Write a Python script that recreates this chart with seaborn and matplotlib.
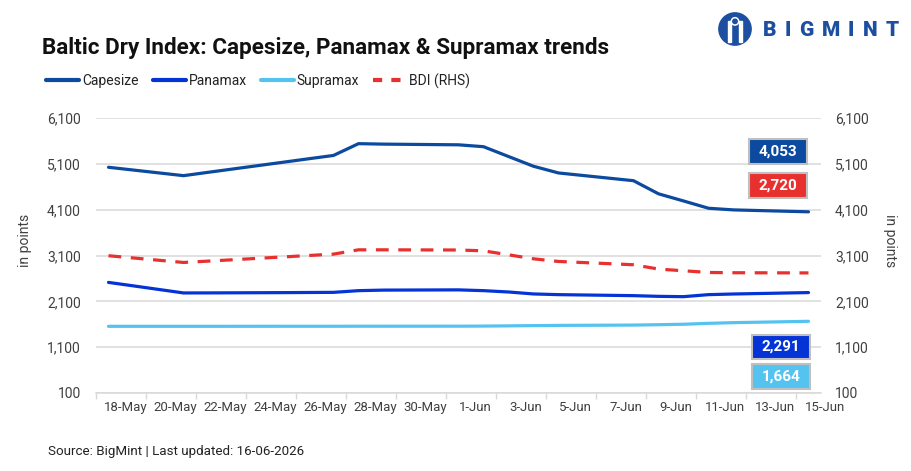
import matplotlib
matplotlib.use("Agg")
import matplotlib.pyplot as plt
import matplotlib.dates as mdates
import matplotlib.transforms as mtrans
from matplotlib.ticker import FixedLocator, FixedFormatter, StrMethodFormatter
from matplotlib.patches import Rectangle, Circle
from matplotlib.lines import Line2D
import seaborn as sns
import pandas as pd

# ---------------- data ----------------
dates = ["2026-05-18", "2026-05-19", "2026-05-20", "2026-05-21", "2026-05-22",
         "2026-05-25", "2026-05-26", "2026-05-27", "2026-05-28", "2026-05-29",
         "2026-06-01", "2026-06-02", "2026-06-03", "2026-06-04", "2026-06-05",
         "2026-06-08", "2026-06-09", "2026-06-10", "2026-06-11", "2026-06-12",
         "2026-06-15"]
capesize = [5025, 4964, 4903, 4842, 4916, 5136, 5210, 5283, 5540, 5530,
            5515, 5474, 5260, 5047, 4901, 4732, 4446, 4290, 4131, 4095, 4053]
panamax = [2513, 2437, 2360, 2283, 2284, 2290, 2293, 2296, 2333, 2345,
           2350, 2333, 2304, 2261, 2246, 2224, 2209, 2202, 2246, 2260, 2291]
supramax = [1555, 1555, 1555, 1555, 1555, 1556, 1556, 1556, 1557, 1557,
            1558, 1560, 1565, 1570, 1575, 1582, 1590, 1600, 1620, 1635, 1664]
bdi = [3095, 3046, 2997, 2948, 2978, 3069, 3100, 3130, 3224, 3224,
       3220, 3202, 3115, 3028, 2970, 2898, 2804, 2767, 2730, 2724, 2720]

series_names = ["Capesize", "Panamax", "Supramax"]
bdi_name = "BDI (RHS)"
tick_dates = ["2026-05-18", "2026-05-20", "2026-05-22", "2026-05-24", "2026-05-26",
              "2026-05-28", "2026-05-30", "2026-06-01", "2026-06-03", "2026-06-05",
              "2026-06-07", "2026-06-09", "2026-06-11", "2026-06-13", "2026-06-15"]
tick_labels = ["18-May", "20-May", "22-May", "24-May", "26-May", "28-May", "30-May",
               "1-Jun", "3-Jun", "5-Jun", "7-Jun", "9-Jun", "11-Jun", "13-Jun", "15-Jun"]
y_ticks = [100, 1100, 2100, 3100, 4100, 5100, 6100]

title = "Baltic Dry Index: Capesize, Panamax & Supramax trends"
source = "Source: BigMint | Last updated: 16-06-2026"
ylabel = "in points"

# ---------------- style ----------------
colors = {"Capesize": "#0B4A9E", "Panamax": "#0433D6", "Supramax": "#55C3F0"}
bdi_color = "#E8312F"
grid_c = "#D9D9D9"
text_c = "#404040"

sns.set_theme(style="white")
plt.rcParams["font.family"] = ["Roboto", "DejaVu Sans"]

W, H = 911, 471
fig = plt.figure(figsize=(W / 100, H / 100), dpi=100)
L, R, T, B = 96, 821, 118, 393
ax = fig.add_axes([L / W, 1 - B / H, (R - L) / W, (B - T) / H])

df = pd.DataFrame({"date": pd.to_datetime(dates), "Capesize": capesize,
                   "Panamax": panamax, "Supramax": supramax})
long = df.melt(id_vars="date", var_name="series", value_name="value")
sns.lineplot(data=long, x="date", y="value", hue="series", palette=colors,
             hue_order=series_names, linewidth=2.3, ax=ax, legend=False)

ax2 = ax.twinx()
bdf = pd.DataFrame({"date": pd.to_datetime(dates), "value": bdi})
sns.lineplot(data=bdf, x="date", y="value", color=bdi_color, linewidth=2.3,
             ax=ax2, legend=False)
for ln in ax2.lines:
    ln.set_dashes((4, 3))

# axes limits / ticks
x0 = mdates.date2num(pd.Timestamp("2026-05-17 12:00"))
x1 = mdates.date2num(pd.Timestamp("2026-06-15 12:00"))
ax.set_xlim(x0, x1)
for a in (ax, ax2):
    a.set_ylim(100, 6100)
    a.set_yticks(y_ticks)
    a.yaxis.set_major_formatter(StrMethodFormatter("{x:,.0f}"))
    a.set_xlabel("")
    for s in a.spines.values():
        s.set_visible(False)

ax.grid(axis="y", color=grid_c, linewidth=1.1)
ax.set_axisbelow(True)
ax.spines["bottom"].set_visible(True)
ax.spines["bottom"].set_color(grid_c)
ax.spines["bottom"].set_linewidth(1.1)

tnum = mdates.date2num(pd.to_datetime(tick_dates))
ax.xaxis.set_major_locator(FixedLocator(tnum))
ax.xaxis.set_major_formatter(FixedFormatter(tick_labels))
ax.xaxis.set_minor_locator(FixedLocator(tnum - 0.5))
ax.tick_params(axis="x", which="major", length=0, pad=6, labelsize=9.5, labelcolor=text_c)
ax.tick_params(axis="x", which="minor", length=4, width=1, color=grid_c, direction="out",
               bottom=True)
ax.tick_params(axis="y", length=0, pad=11, labelsize=10, labelcolor=text_c)
ax2.tick_params(axis="y", length=0, pad=10, labelsize=10, labelcolor=text_c)

offset = mtrans.ScaledTranslation(0.17, 0, fig.dpi_scale_trans)
for tk in ax.xaxis.get_major_ticks():
    tk.label1.set_transform(tk.label1.get_transform() + offset)

ax.set_ylabel(ylabel, fontsize=10, color=text_c)
ax.yaxis.set_label_coords((32 - L) / (R - L), (B - 240) / (B - T))
ax2.set_ylabel(ylabel, fontsize=10, color=text_c, rotation=270, va="center")
ax2.yaxis.set_label_coords((890 - L) / (R - L), (B - 241) / (B - T))

# value boxes for latest readings
def value_box(px0, px1, py0, py1, face, val):
    bx = (px0 - L) / (R - L)
    by = (B - py1) / (B - T)
    bw = (px1 - px0) / (R - L)
    bh = (py1 - py0) / (B - T)
    ax2.add_patch(Rectangle((bx, by), bw, bh, transform=ax2.transAxes, facecolor=face,
                            edgecolor="#BFBFBF", linewidth=1.5, zorder=10, clip_on=False))
    ax2.text(bx + bw / 2, by + bh / 2, f"{val:,}", transform=ax2.transAxes, color="white",
             fontsize=11, fontweight="bold", ha="center", va="center", zorder=11)

value_box(749, 807, 139, 164, colors["Capesize"], capesize[-1])
value_box(749, 807, 173, 198, bdi_color, bdi[-1])
value_box(752, 810, 335, 359, colors["Panamax"], panamax[-1])
value_box(752, 810, 364, 389, colors["Supramax"], supramax[-1])

# title, legend, footer
fig.text(42 / W, 1 - 48 / H, title, fontsize=16.2, fontweight="bold", color="#111111",
         va="center", ha="left")

handles = [Line2D([], [], color=colors[n], linewidth=3) for n in series_names]
handles.append(Line2D([], [], color=bdi_color, linewidth=3, dashes=(2.2, 2.2)))
fig.legend(handles, series_names + [bdi_name], loc="center left",
           bbox_to_anchor=(46 / W, 1 - 81 / H), ncol=4, frameon=False, fontsize=10,
           handlelength=2.4, handletextpad=0.2, columnspacing=1.0, borderpad=0,
           borderaxespad=0, labelcolor="#222222")

fig.text(48 / W, 1 - 452 / H, source, fontsize=9.6, color="#222222", va="center", ha="left")

# logo
logo_c = "#1C4FA0"
letters = ["B", "I", "G", "M", "I", "N", "T"]
centers = [769.5, 787.8, 806.6, 830.9, 851.2, 870.0, 891.8]
for ch, cx in zip(letters, centers):
    fig.text(cx / W, 1 - 30 / H, ch, fontsize=15, fontweight="black", color=logo_c,
             ha="center", va="center")
iax = fig.add_axes([718 / W, 1 - 46 / H, 34 / W, 34 / H])
iax.set_xlim(-1, 1)
iax.set_ylim(-1, 1)
iax.set_aspect("equal")
iax.axis("off")
iax.add_patch(Circle((0, 0), 0.95, color=logo_c))
for xx in (-0.33, 0.33):
    iax.add_patch(Rectangle((xx - 0.1, -0.75), 0.2, 1.25, color="white"))
iax.add_patch(Circle((0, 0.45), 0.22, color="white"))
iax.add_patch(Circle((0, 0.45), 0.13, color=logo_c))

fig.savefig("out.png", dpi=100)
